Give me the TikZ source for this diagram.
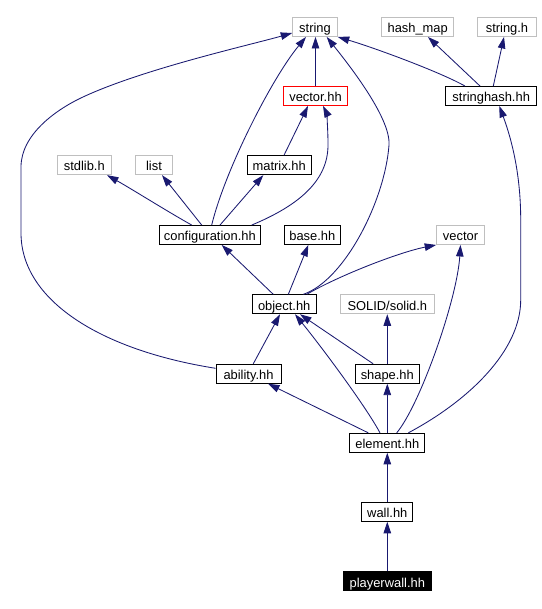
\documentclass[tikz,border=0pt]{standalone}
\usepackage{fontspec}
\setmainfont{Liberation Sans}
\usetikzlibrary{arrows.meta}
\definecolor{edgeblue}{HTML}{191970}
\definecolor{sysgray}{HTML}{BFBFBF}
\begin{document}
\begin{tikzpicture}[x=1pt,y=-1pt,
  file/.style={draw=black, line width=0.9pt, minimum height=19pt, inner sep=0pt,
    text height=11.4pt, text depth=0pt, font=\fontsize{12.9}{14}\selectfont},
  sys/.style={file, draw=sysgray},
  redfile/.style={file, draw=red},
  cur/.style={file, fill=black, text=white},
  dep/.style={draw=edgeblue, line width=0.85pt, -{Triangle[length=11.5pt,width=7.5pt]}}]
\useasboundingbox (0,0) rectangle (541,609);
% nodes
\node[sys, minimum width=44.6pt] (string) at (315,27) {string};
\node[sys, minimum width=72pt] (hashmap) at (417.7,27) {hash\_map};
\node[sys, minimum width=59pt] (stringh) at (507,27) {string.h};
\node[redfile, minimum width=64.4pt] (vectorhh) at (315.5,96) {vector.hh};
\node[file, minimum width=91pt] (stringhash) at (491.2,96) {stringhash.hh};
\node[sys, minimum width=54pt] (stdlib) at (84.3,165.2) {stdlib.h};
\node[sys, minimum width=37.3pt] (list) at (154,165.2) {list};
\node[file, minimum width=63.7pt] (matrix) at (279.2,165.2) {matrix.hh};
\node[file, minimum width=101pt] (config) at (209.8,235) {configuration.hh};
\node[file, minimum width=56pt] (base) at (312.3,235) {base.hh};
\node[sys, minimum width=47.7pt] (vector) at (460.5,235) {vector};
\node[file, minimum width=63.7pt] (object) at (284.2,304.3) {object.hh};
\node[sys, minimum width=93.3pt] (solid) at (387.3,304.3) {SOLID/solid.h};
\node[file, minimum width=65pt] (ability) at (248.5,373.7) {ability.hh};
\node[file, minimum width=64.3pt] (shape) at (387.3,373.7) {shape.hh};
\node[file, minimum width=75pt] (element) at (387.3,442.8) {element.hh};
\node[file, minimum width=51pt] (wall) at (387.3,511.8) {wall.hh};
\node[cur, minimum width=88.7pt] (playerwall) at (387.3,581.3) {playerwall.hh};
% edges
\draw[dep] (vectorhh.north) -- (vectorhh.north |- string.south);
\draw[dep] ([xshift=1.9pt]config.north) .. controls (225,170) and (272,78) .. ([xshift=-9pt]string.south);
\draw[dep] ([xshift=19.1pt]object.north) .. controls (345,280) and (385,200) .. (389,145)
  .. controls (391,117) and (345,60) .. ([xshift=11.7pt]string.south);
\draw[dep] ([xshift=-26.2pt]stringhash.north) .. controls (440,72) and (375,48) .. (string.south east);
\draw[dep] ([xshift=-11.2pt]stringhash.north) -- ([xshift=10.3pt]hashmap.south);
\draw[dep] ([xshift=2.1pt]stringhash.north) -- ([xshift=-3pt]stringh.south);
\draw[dep] ([xshift=4.8pt]matrix.north) -- ([xshift=-7.5pt]vectorhh.south);
\draw[dep] ([xshift=41.9pt]config.north) .. controls (300,205) and (328,180) .. (328,145)
  .. controls (328,125) and (326,112) .. ([xshift=7.5pt]vectorhh.south);
\draw[dep] ([xshift=-18.1pt]config.north) .. controls (170,213) and (130,188) .. ([xshift=22.7pt]stdlib.south);
\draw[dep] ([xshift=-8.1pt]config.north) -- ([xshift=8pt]list.south);
\draw[dep] ([xshift=10.2pt]config.north) -- ([xshift=-15.9pt]matrix.south);
\draw[dep] ([yshift=5.4pt]ability.west) .. controls (100,350) and (21,300) .. (21,233)
  -- (21,167) .. controls (21,135) and (55,110) .. (83,97)
  .. controls (143,69) and (250,45) .. ([yshift=-6pt]string.west);
\draw[dep] ([xshift=-10.9pt]object.north) -- ([xshift=11.9pt]config.south);
\draw[dep] ([xshift=4.1pt]object.north) -- ([xshift=-4pt]base.south);
\draw[dep] ([xshift=22.5pt]object.north) .. controls (340,275) and (400,252) .. (vector.south west);
\draw[dep] ([xshift=4.8pt]ability.north) -- ([xshift=-4.2pt]object.south);
\draw[dep] ([xshift=-7.3pt]element.north) .. controls (365,405) and (320,345) .. ([xshift=10.8pt]object.south);
\draw[dep] ([xshift=-14.2pt]shape.north) -- ([xshift=15.8pt]object.south);
\draw[dep] (shape.north) -- (solid.south);
\draw[dep] ([xshift=-19pt]element.north) -- ([xshift=19.5pt]ability.south);
\draw[dep] (element.north) -- (shape.south);
\draw[dep] ([xshift=9.4pt]element.north) .. controls (420,405) and (457,300) .. (vector.south);
\draw[dep] ([xshift=21pt]element.north) .. controls (470,400) and (520.7,350) .. (520.7,300)
  -- (520.7,220) .. controls (520.7,170) and (510,135) .. ([xshift=8.1pt]stringhash.south);
\draw[dep] (wall.north) -- (element.south);
\draw[dep] (playerwall.north) -- (wall.south);
\end{tikzpicture}
\end{document}
